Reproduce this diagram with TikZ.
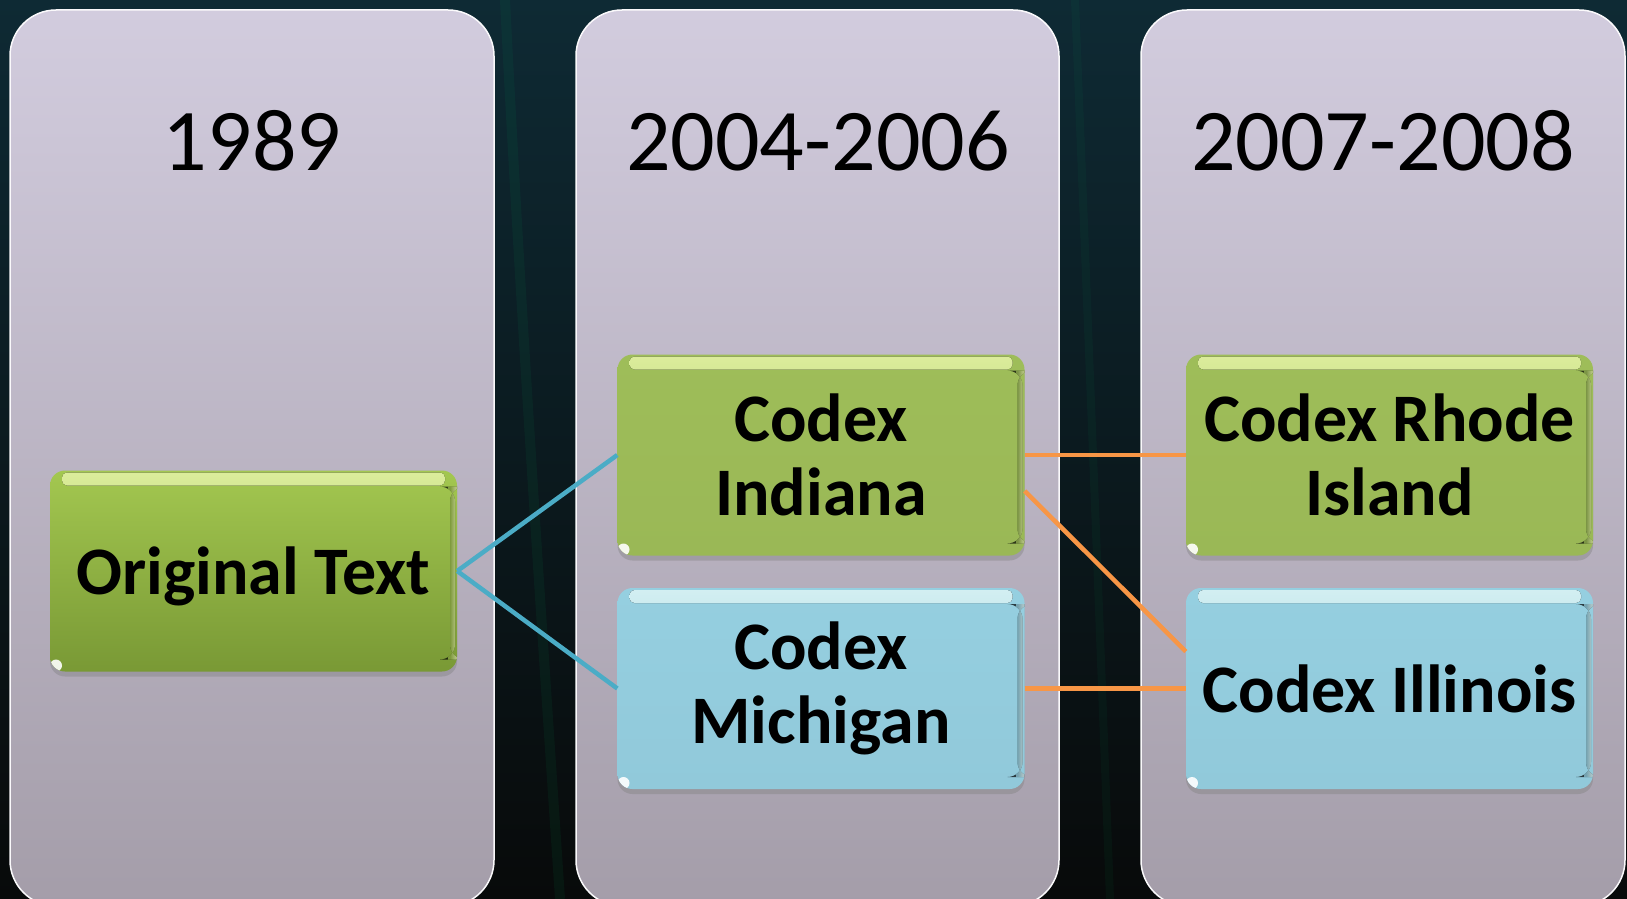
\documentclass[tikz,border=0pt]{standalone}
\usepackage{fontspec}
\setmainfont{Carlito}
\usetikzlibrary{shadows,calc}

\definecolor{bgtop}{RGB}{14,42,52}
\definecolor{bgbot}{RGB}{8,10,10}
\definecolor{coltop}{RGB}{210,204,222}
\definecolor{colbot}{RGB}{164,157,169}
\definecolor{grntop}{RGB}{163,199,80}
\definecolor{grnbot}{RGB}{121,153,53}
\definecolor{grnflat}{RGB}{158,189,89}
\definecolor{grnflatb}{RGB}{154,184,86}
\definecolor{grnhi}{RGB}{232,250,165}
\definecolor{blutop}{RGB}{149,207,224}
\definecolor{blubot}{RGB}{145,201,218}
\definecolor{bluhi}{RGB}{222,252,255}
\definecolor{linkblue}{RGB}{75,172,198}
\definecolor{linkorange}{RGB}{247,150,70}

\tikzset{
  column/.style={rounded corners=46pt, top color=coltop, bottom color=colbot,
    draw=white!88!coltop, line width=1.5pt},
  year/.style={font=\fontsize{88}{100}\selectfont, text=black, anchor=base, inner sep=0pt},
  % glossy bevel: bright strip along the top, light rim on the right, glint at lower left
  gloss/.style 2 args={path picture={
    \fill[top color=#1, bottom color=#2, rounded corners=5pt, opacity=0.95]
      ([xshift=12pt,yshift=-2pt]path picture bounding box.north west)
      rectangle ([xshift=-12pt,yshift=-15pt]path picture bounding box.north east);
    \fill[left color=#2, right color=#1, opacity=0.7]
      ([xshift=-7pt,yshift=-16pt]path picture bounding box.north east)
      rectangle ([xshift=-2pt,yshift=12pt]path picture bounding box.south east);
    \fill[white, opacity=0.9]
      ([xshift=6pt,yshift=6pt]path picture bounding box.south west) circle (6pt);
  }},
  box/.style={rounded corners=15pt, minimum width=407pt, minimum height=201pt,
    inner sep=0pt, align=center, text=black,
    font=\bfseries\fontsize{68}{74}\selectfont,
    drop shadow={shadow xshift=0pt, shadow yshift=-5pt, opacity=0.4}},
  greenbox/.style={box, top color=grnflat, bottom color=grnflatb, gloss={grnhi}{grnflat}},
  deepgreenbox/.style={box, top color=grntop, bottom color=grnbot, gloss={grnhi}{grntop}},
  bluebox/.style={box, top color=blutop, bottom color=blubot, gloss={bluhi}{blutop}},
  bluelink/.style={draw=linkblue, line width=4.5pt},
  orangelink/.style={draw=linkorange, line width=4.5pt},
}

\begin{document}
\begin{tikzpicture}[x=1pt, y=-1pt]
  \useasboundingbox (0,0) rectangle (1627,899);

  % dark backdrop with faint streaks
  \shade[top color=bgtop, bottom color=bgbot] (0,0) rectangle (1627,899);
  \begin{scope}
    \clip (0,0) rectangle (1627,899);
    \draw[teal!70!green, line width=10pt, opacity=0.08] (505,0) .. controls (520,300) and (540,600) .. (560,899);
    \draw[teal!70!green, line width=8pt, opacity=0.06] (1075,0) .. controls (1085,250) and (1095,500) .. (1110,899);

    % period columns
    \path[column] (10,10) rectangle (494,906);
    \path[column] (576,10) rectangle (1059,906);
    \path[column] (1141,10) rectangle (1625,906);
  \end{scope}

  % period headings
  \node[year] (y1) at (252,170) {1989};
  \node[year] (y2) at (818,170) {2004-2006};
  \node[year] (y3) at (1383,170) {2007-2008};

  % text boxes
  \node[deepgreenbox, text depth=0pt] (orig) at (253.5,571) {Original Text};
  \node[greenbox] (indiana) at (821,455) {Codex\\Indiana};
  \node[bluebox] (michigan) at (821,688.5) {Codex\\Michigan};
  \node[greenbox] (rhode) at (1389.5,455) {Codex Rhode\\Island};
  \node[bluebox] (illinois) at (1389.5,688.5) {Codex Illinois};

  % lineage connectors
  \draw[bluelink] (orig.east) -- (indiana.west);
  \draw[bluelink] (orig.east) -- (michigan.west);
  \draw[orangelink] (indiana.east) -- (rhode.west);
  \draw[orangelink] ([yshift=-36pt]indiana.east) -- ([yshift=37pt]illinois.west);
  \draw[orangelink] (michigan.east) -- (illinois.west);
\end{tikzpicture}
\end{document}
